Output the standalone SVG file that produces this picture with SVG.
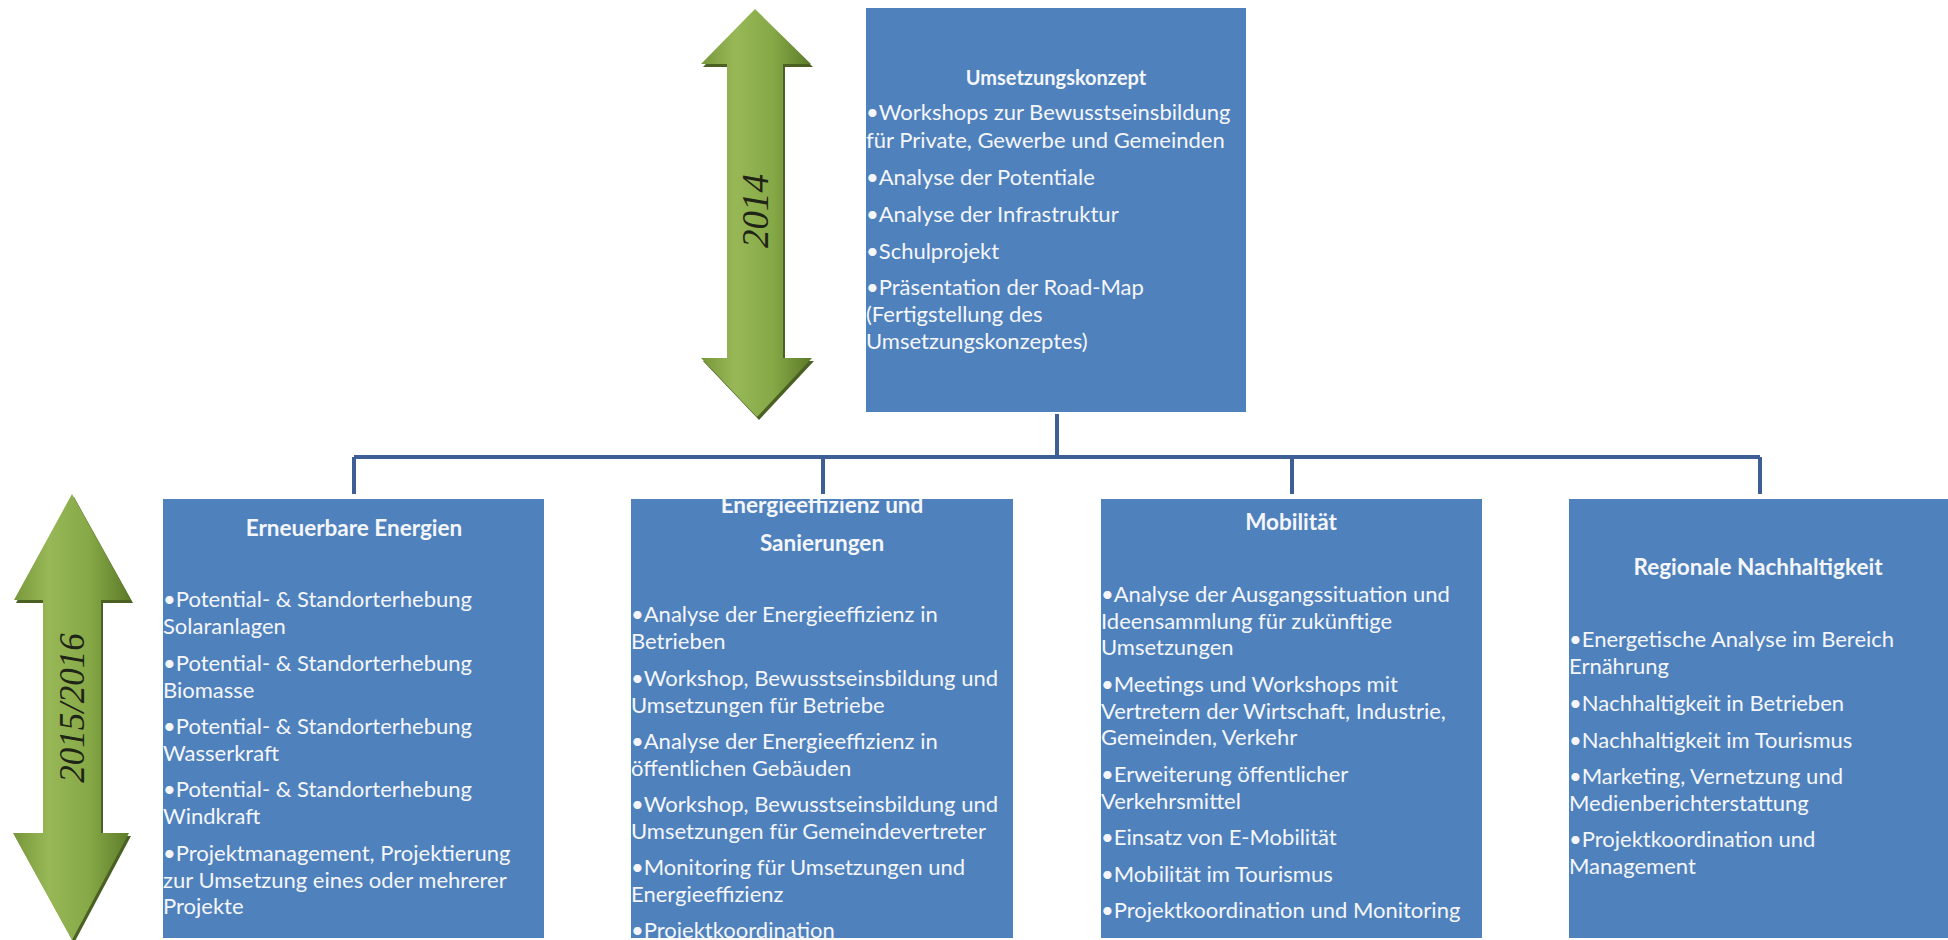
<svg xmlns="http://www.w3.org/2000/svg" width="1948" height="940" viewBox="0 0 1948 940">
<defs>
<linearGradient id="g1" x1="0" y1="0" x2="1" y2="0">
<stop offset="0" stop-color="#76963A"/>
<stop offset="0.3" stop-color="#98B857"/>
<stop offset="0.65" stop-color="#86A846"/>
<stop offset="1" stop-color="#5C7A29"/>
</linearGradient>
<clipPath id="c2"><rect x="631" y="499" width="382" height="439"/></clipPath>
</defs>
<style>
.box{fill:#4F81BD}
.t{font-family:Lato,"Liberation Sans",sans-serif;font-size:22px;fill:#F4F6FA}
.h{font-family:Lato,"Liberation Sans",sans-serif;font-size:22.5px;font-weight:bold;fill:#F4F6FA;text-anchor:middle}
.h0{font-size:20px}
.yr{font-family:"Liberation Serif",serif;font-style:italic;font-size:37px;fill:#1E2416;text-anchor:middle}
.yr2{font-size:35px}
.con{fill:none;stroke:#3D5F95;stroke-width:4}
.arr{fill:url(#g1)}
.sh{fill:#4B6124}
</style>

<g id="arrow-2014">
<polygon class="sh" points="757,12 813,67 785,67 785,361 814,361 759,420 703,361 729,361 729,67 703,67"/>
<polygon class="arr" points="755,9 811,64 783,64 783,358 812,358 757,417 701,358 727,358 727,64 701,64"/>
<text class="yr" transform="translate(768,211) rotate(-90)">2014</text>
</g>

<g id="arrow-2015-2016">
<polygon class="sh" points="74,497 133,603 103,603 103,836 131,836 74,943 15,836 45,836 45,603 16,603"/>
<polygon class="arr" points="72,494 131,600 101,600 101,833 129,833 72,940 13,833 43,833 43,600 14,600"/>
<text class="yr yr2" transform="translate(84,708) rotate(-90)">2015/2016</text>
</g>

<g id="connectors">
<path class="con" d="M1057,414 V457 M354,457 H1760 M354,457 V494 M823,457 V494 M1292,457 V494 M1760,457 V494"/>
</g>

<g id="umsetzungskonzept">
<rect class="box" x="866" y="8" width="380" height="404"/>
<text class="h h0" x="1056" y="85">Umsetzungskonzept</text>
<text class="t" x="866" y="120">•Workshops zur Bewusstseinsbildung</text>
<text class="t" x="866" y="148">für Private, Gewerbe und Gemeinden</text>
<text class="t" x="866" y="185">•Analyse der Potentiale</text>
<text class="t" x="866" y="222">•Analyse der Infrastruktur</text>
<text class="t" x="866" y="259">•Schulprojekt</text>
<text class="t" x="866" y="295">•Präsentation der Road-Map</text>
<text class="t" x="866" y="322">(Fertigstellung des</text>
<text class="t" x="866" y="349">Umsetzungskonzeptes)</text>
</g>

<g id="erneuerbare-energien">
<rect class="box" x="163" y="499" width="381" height="439"/>
<text class="h" x="354" y="536">Erneuerbare Energien</text>
<text class="t" x="163" y="607">•Potential- &amp; Standorterhebung</text>
<text class="t" x="163" y="634">Solaranlagen</text>
<text class="t" x="163" y="671">•Potential- &amp; Standorterhebung</text>
<text class="t" x="163" y="698">Biomasse</text>
<text class="t" x="163" y="734">•Potential- &amp; Standorterhebung</text>
<text class="t" x="163" y="761">Wasserkraft</text>
<text class="t" x="163" y="797">•Potential- &amp; Standorterhebung</text>
<text class="t" x="163" y="824">Windkraft</text>
<text class="t" x="163" y="861">•Projektmanagement, Projektierung</text>
<text class="t" x="163" y="888">zur Umsetzung eines oder mehrerer</text>
<text class="t" x="163" y="914">Projekte</text>
</g>

<g id="energieeffizienz">
<rect class="box" x="631" y="499" width="382" height="439"/>
<g clip-path="url(#c2)">
<text class="h" x="822" y="513">Energieeffizienz und</text>
<text class="h" x="822" y="551">Sanierungen</text>
<text class="t" x="631" y="622">•Analyse der Energieeffizienz in</text>
<text class="t" x="631" y="649">Betrieben</text>
<text class="t" x="631" y="686">•Workshop, Bewusstseinsbildung und</text>
<text class="t" x="631" y="713">Umsetzungen für Betriebe</text>
<text class="t" x="631" y="749">•Analyse der Energieeffizienz in</text>
<text class="t" x="631" y="776">öffentlichen Gebäuden</text>
<text class="t" x="631" y="812">•Workshop, Bewusstseinsbildung und</text>
<text class="t" x="631" y="839">Umsetzungen für Gemeindevertreter</text>
<text class="t" x="631" y="875">•Monitoring für Umsetzungen und</text>
<text class="t" x="631" y="902">Energieeffizienz</text>
<text class="t" x="631" y="938">•Projektkoordination</text>
</g>
</g>

<g id="mobilitaet">
<rect class="box" x="1101" y="499" width="381" height="439"/>
<text class="h" x="1291" y="530">Mobilität</text>
<text class="t" x="1101" y="602">•Analyse der Ausgangssituation und</text>
<text class="t" x="1101" y="629">Ideensammlung für zukünftige</text>
<text class="t" x="1101" y="655">Umsetzungen</text>
<text class="t" x="1101" y="692">•Meetings und Workshops mit</text>
<text class="t" x="1101" y="719">Vertretern der Wirtschaft, Industrie,</text>
<text class="t" x="1101" y="745">Gemeinden, Verkehr</text>
<text class="t" x="1101" y="782">•Erweiterung öffentlicher</text>
<text class="t" x="1101" y="809">Verkehrsmittel</text>
<text class="t" x="1101" y="845">•Einsatz von E-Mobilität</text>
<text class="t" x="1101" y="882">•Mobilität im Tourismus</text>
<text class="t" x="1101" y="918">•Projektkoordination und Monitoring</text>
</g>

<g id="regionale-nachhaltigkeit">
<rect class="box" x="1569" y="499" width="379" height="439"/>
<text class="h" x="1758" y="575">Regionale Nachhaltigkeit</text>
<text class="t" x="1569" y="647">•Energetische Analyse im Bereich</text>
<text class="t" x="1569" y="674">Ernährung</text>
<text class="t" x="1569" y="711">•Nachhaltigkeit in Betrieben</text>
<text class="t" x="1569" y="748">•Nachhaltigkeit im Tourismus</text>
<text class="t" x="1569" y="784">•Marketing, Vernetzung und</text>
<text class="t" x="1569" y="811">Medienberichterstattung</text>
<text class="t" x="1569" y="847">•Projektkoordination und</text>
<text class="t" x="1569" y="874">Management</text>
</g>
</svg>
